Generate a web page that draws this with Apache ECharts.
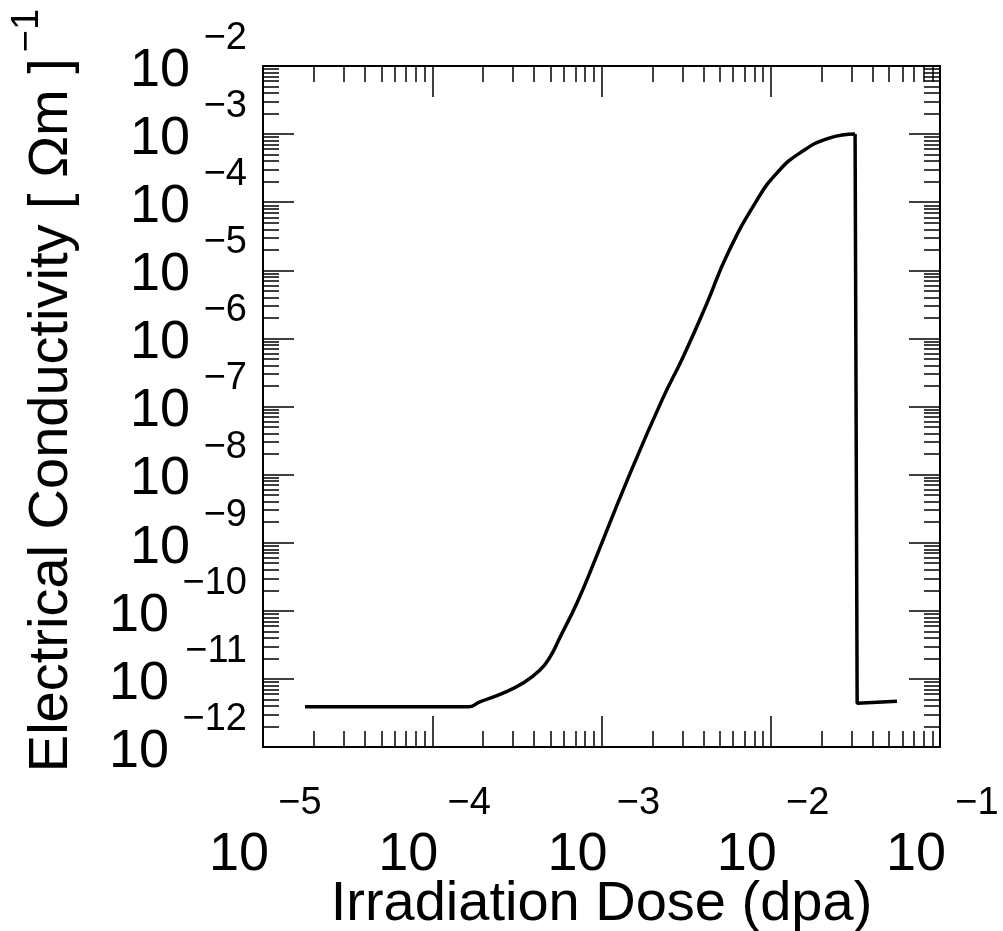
<!DOCTYPE html>
<html>
<head>
<meta charset="utf-8">
<script src="https://cdn.jsdelivr.net/npm/echarts@6/dist/echarts.min.js"></script>
<style>
html,body{margin:0;padding:0;background:#fff;}
#chart{width:1003px;height:931px;}
</style>
</head>
<body>
<div id="chart"></div>
<script>
// ---- data ----
const dose = [1.77e-5, 1.63e-4, 1.91e-4, 2.62e-4, 3.44e-4, 4.33e-4, 4.97e-4, 5.69e-4, 7.16e-4, 9.16e-4,
              1.42e-3, 2.28e-3, 3.03e-3, 4.20e-3, 5.59e-3, 8.30e-3, 1.09e-2, 1.49e-2, 2.24e-2, 3.15e-2,
              3.24e-2, 5.57e-2];
const conductivity = [3.9e-12, 3.9e-12, 4.6e-12, 6.2e-12, 8.7e-12, 1.35e-11, 2.1e-11, 4.1e-11, 1.3e-10, 5.6e-10,
              8.3e-9, 1.25e-7, 5.3e-7, 3.3e-6, 1.8e-5, 1.08e-4, 2.7e-4, 5.3e-4, 8.8e-4, 1.0e-3,
              4.4e-12, 4.7e-12];
const peakIndex = 19;   // last point before the sudden drop
const xExponents = [-5, -4, -3, -2, -1];
const yExponents = [-12, -11, -10, -9, -8, -7, -6, -5, -4, -3, -2];
const xTitle = 'Irradiation Dose (dpa)';
const yTitle = 'Electrical Conductivity [ Ωm ]';
const yTitleExp = '−1';

// ---- tick positions ----
function decades(exps) { return exps.map(e => Math.pow(10, e)); }
function minors(exps) {
  const out = [];
  for (let i = 0; i < exps.length - 1; i++) {
    for (let k = 2; k <= 9; k++) out.push(k * Math.pow(10, exps[i]));
  }
  return out;
}
const xMajor = decades(xExponents), xMinor = minors(xExponents);
const yMajor = decades(yExponents), yMinor = minors(yExponents);

const FONT = '"Liberation Sans", Arial, Helvetica, sans-serif';
const expOf = v => Math.abs(Math.round(Math.log10(v)));
const baseLabel = v => (expOf(v) >= 10 ? '{w|10}' : '{n|10}');
const expLabel = v => '−' + expOf(v);

// label styles: "10" on the major-tick axis, exponent on the minor-tick axis
const LABELS = {
  x: {
    base: { margin: 78, fontSize: 54, lineHeight: 60, valign: 'top', padding: [0, 48, 0, 0], formatter: baseLabel },
    exp:  { margin: 38, fontSize: 38, lineHeight: 38, valign: 'top', padding: [0, 0, 0, 74], formatter: expLabel }
  },
  y: {
    base: { margin: 73, fontSize: 54, lineHeight: 10, valign: 'top', padding: 0, formatter: baseLabel },
    exp:  { margin: 16, fontSize: 38, lineHeight: 55, valign: 'bottom', padding: 0, formatter: expLabel }
  }
};

function axis(kind, pos, isMajor, showLine, labelKey) {
  const isX = kind === 'x';
  const a = {
    type: 'log', logBase: 10,
    min: isX ? xMajor[0] : yMajor[0],
    max: isX ? xMajor[xMajor.length - 1] : yMajor[yMajor.length - 1],
    position: pos,
    axisLine: { show: showLine, lineStyle: { color: '#000', width: 2 } },
    axisTick: {
      show: true, inside: true, length: isMajor ? 31 : 16,
      lineStyle: { color: '#000', width: 1.5 },
      customValues: isMajor ? (isX ? xMajor : yMajor) : (isX ? xMinor : yMinor)
    },
    splitLine: { show: false },
    minorTick: { show: false },
    axisLabel: { show: false }
  };
  if (labelKey) {
    const L = LABELS[kind][labelKey];
    a.axisLabel = {
      show: true,
      customValues: isX ? xMajor : yMajor,
      showMinLabel: true, showMaxLabel: true,
      hideOverlap: false,
      formatter: L.formatter,
      margin: L.margin,
      align: isX ? 'center' : 'right',
      verticalAlign: L.valign,
      color: '#000',
      fontFamily: FONT,
      fontSize: L.fontSize,
      lineHeight: L.lineHeight,
      padding: L.padding,
      rich: {
        n: { fontSize: L.fontSize, fontFamily: FONT, color: '#000', lineHeight: L.lineHeight },
        w: { fontSize: L.fontSize, fontFamily: FONT, color: '#000', lineHeight: L.lineHeight,
             padding: [0, isX ? 0 : 21, 0, 0] }
      }
    };
  }
  return a;
}

const xAxes = [
  axis('x', 'bottom', true, true, 'base'),
  axis('x', 'bottom', false, false, 'exp'),
  axis('x', 'top', true, true, null),
  axis('x', 'top', false, false, null)
];
Object.assign(xAxes[0], {
  name: xTitle, nameLocation: 'middle', nameGap: 130, nameMoveOverlap: false,
  nameTextStyle: { fontSize: 56, fontFamily: FONT, color: '#000' }
});
const yAxes = [
  axis('y', 'left', true, true, 'base'),
  axis('y', 'left', false, false, 'exp'),
  axis('y', 'right', true, true, null),
  axis('y', 'right', false, false, null)
];
Object.assign(yAxes[0], {
  name: '{t|' + yTitle + '}{s|' + yTitleExp + '}',
  nameLocation: 'middle', nameRotate: 90, nameGap: 168, nameMoveOverlap: false,
  nameTextStyle: {
    fontSize: 56, fontFamily: FONT, color: '#000',
    padding: [0, 0, 0, 32],
    rich: {
      t: { fontSize: 56, fontFamily: FONT, color: '#000', lineHeight: 86 },
      s: { fontSize: 38, fontFamily: FONT, color: '#000', lineHeight: 38, verticalAlign: 'top', padding: [0, 0, 0, 6] }
    }
  }
});

const points = dose.map((d, i) => [d, conductivity[i]]);
const lineStyle = { color: '#000', width: 3.5 };

const chart = echarts.init(document.getElementById('chart'), null, { renderer: 'canvas' });
chart.setOption({
  animation: false,
  backgroundColor: '#fff',
  grid: { left: 263, right: 63, top: 66, bottom: 184, containLabel: false, outerBoundsMode: 'none' },
  xAxis: xAxes,
  yAxis: yAxes,
  series: [{
    type: 'line',
    xAxisIndex: 0, yAxisIndex: 0,
    data: points.slice(0, peakIndex + 1),
    showSymbol: false, symbol: 'none',
    smooth: 0.5,
    lineStyle: lineStyle
  }, {
    type: 'line',
    xAxisIndex: 0, yAxisIndex: 0,
    data: points.slice(peakIndex),
    showSymbol: false, symbol: 'none',
    smooth: false,
    lineStyle: lineStyle
  }]
});
</script>
</body>
</html>
